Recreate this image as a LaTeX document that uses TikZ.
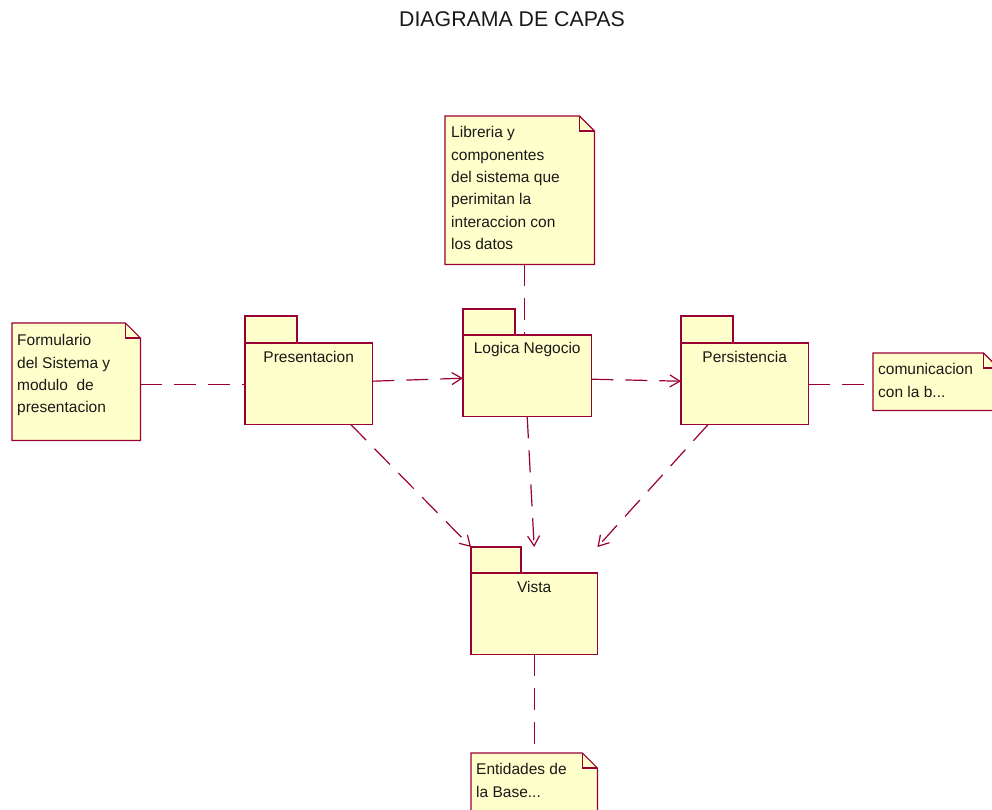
\documentclass[tikz,border=0pt]{standalone}
\usepackage{fontspec}
\setmainfont{Liberation Sans}
\usetikzlibrary{arrows.meta}

\definecolor{umlline}{RGB}{153,0,51}
\definecolor{umlfill}{RGB}{255,255,204}

\tikzset{
  pkgframe/.style={draw=none, inner sep=0pt, anchor=north west},
  pkgpart/.style={draw=umlline, fill=umlfill, line width=1.2pt},
  pkglabel/.style={anchor=base, inner sep=0pt, font=\fontsize{15.5}{19}\selectfont, text=black!90},
  noteframe/.style={draw=none, inner sep=0pt, anchor=north west},
  notepart/.style={draw=umlline, fill=umlfill, line width=1.2pt, line join=miter},
  notetext/.style={anchor=north west, inner sep=0pt, align=left,
    font=\fontsize{15.5}{22.3}\selectfont, text=black!90},
  link/.style={draw=umlline, line width=1.2pt, dash pattern=on 22pt off 12pt},
  dep/.style={link, -{Straight Barb[length=10pt,width=12pt,line width=1.2pt]}},
}

% package: tab on top left, body below
\newcommand\umlpackage[3]{% name, tab width, tab height
  \filldraw[pkgpart] (#1.north west) rectangle ([xshift=#2pt,yshift=-#3pt]#1.north west);
  \filldraw[pkgpart] ([yshift=-#3pt]#1.north west) rectangle (#1.south east);
}
% note with folded corner
\newcommand\umlnote[1]{%
  \filldraw[notepart] (#1.north west) -- ([xshift=-15pt]#1.north east)
    -- ([yshift=-15pt]#1.north east) -- (#1.south east) -- (#1.south west) -- cycle;
  \draw[notepart, fill=none] ([xshift=-15pt]#1.north east) |- ([yshift=-15pt]#1.north east);
}

\begin{document}
\begin{tikzpicture}[x=1pt, y=-1pt]
\clip (0,0) rectangle (992,809);
\fill[white] (0,0) rectangle (992,809);

% title
\node[font=\fontsize{21.3}{25}\selectfont, text=black!90] (title) at (512,19) {DIAGRAMA DE CAPAS};

% packages
\node[pkgframe, minimum width=127pt, minimum height=108pt] (pres) at (245,316) {};
\umlpackage{pres}{52}{27}
\node[pkglabel] (presl) at ([yshift=-46.5pt]pres.north) {Presentacion};

\node[pkgframe, minimum width=128pt, minimum height=107pt] (logic) at (463,309) {};
\umlpackage{logic}{52}{26}
\node[pkglabel] (logicl) at ([yshift=-44.5pt]logic.north) {Logica Negocio};

\node[pkgframe, minimum width=127pt, minimum height=108pt] (pers) at (681,316) {};
\umlpackage{pers}{52}{27}
\node[pkglabel] (persl) at ([yshift=-46.5pt]pers.north) {Persistencia};

\node[pkgframe, minimum width=126pt, minimum height=107pt] (vista) at (471,547) {};
\umlpackage{vista}{50}{26}
\node[pkglabel] (vistal) at ([yshift=-45.5pt]vista.north) {Vista};

% notes
\node[noteframe, minimum width=128pt, minimum height=117pt] (form) at (12,323) {};
\umlnote{form}
\node[notetext] (formt) at ([xshift=5pt,yshift=-7pt]form.north west)
  {\strut Formulario\\del Sistema y\\modulo\ \ de\\presentacion};

\node[noteframe, minimum width=149pt, minimum height=148pt] (lib) at (445,116) {};
\umlnote{lib}
\node[notetext] (libt) at ([xshift=6pt,yshift=-6pt]lib.north west)
  {\strut Libreria y\\componentes\\del sistema que\\perimitan la\\interaccion con\\los datos};

\node[noteframe, minimum width=125pt, minimum height=57pt] (com) at (873,353) {};
\umlnote{com}
\node[notetext] (comt) at ([xshift=5pt,yshift=-6pt]com.north west)
  {\strut comunicacion\\con la b...};

\node[noteframe, minimum width=126pt, minimum height=80pt] (ent) at (471,753) {};
\umlnote{ent}
\node[notetext] (entt) at ([xshift=5pt,yshift=-6pt]ent.north west)
  {\strut Entidades de\\la Base...};

% note attachments
\draw[link] ([yshift=-2.5pt]form.east) -- ([yshift=-14pt]pres.west);
\draw[link] ([yshift=-14pt]pers.east) -- ([yshift=-2.5pt]com.west);
\draw[link] ([xshift=4.5pt]lib.south) -- ([xshift=-3pt,yshift=-26pt]logic.north);
\draw[link] (vista.south) -- (ent.north);

% dependencies
\draw[dep] ([yshift=-11pt]pres.east) -- ([yshift=-15.5pt]logic.west);
\draw[dep] ([yshift=-16.5pt]logic.east) -- ([yshift=-11pt]pers.west);
\draw[dep] ([xshift=42pt]pres.south) -- (vista.north west);
\draw[dep] (logic.south) -- (vista.north);
\draw[dep] ([xshift=-36.5pt]pers.south) -- (vista.north east);
\end{tikzpicture}
\end{document}
